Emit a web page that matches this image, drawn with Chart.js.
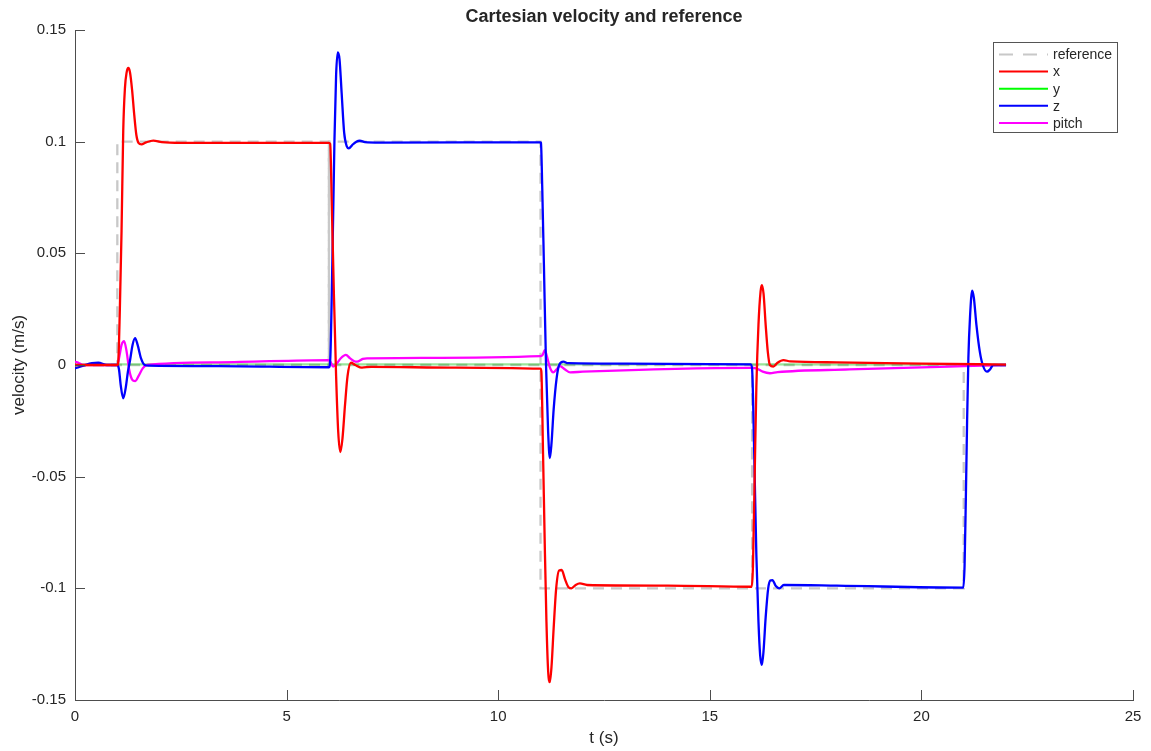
<!DOCTYPE html>
<html>
<head>
<meta charset="utf-8">
<script src="https://cdn.jsdelivr.net/npm/chart.js@4.4.1/dist/chart.umd.min.js"></script>
<style>
  html, body { margin: 0; padding: 0; background: #ffffff; }
  #wrap { position: relative; width: 1151px; height: 751px; }
</style>
</head>
<body>
<div id="wrap"><canvas id="c" width="1151" height="751"></canvas></div>
<script>
// ---------- data ----------
const chartTitle = 'Cartesian velocity and reference';
const xAxisTitle = 't (s)';
const yAxisTitle = 'velocity (m/s)';
const xTickLabels = ['0', '5', '10', '15', '20', '25'];
const yTickLabels = ['-0.15', '-0.1', '-0.05', '0', '0.05', '0.1', '0.15'];
const seriesNames = ['reference', 'x', 'y', 'z', 'pitch'];

// reference (x component and z component)
const refXt = [0, 1.0, 1.0, 6.0, 6.0, 11.0, 11.0, 16.0, 16.0, 22.0];
const refXv = [0, 0, 0.1, 0.1, 0, 0, -0.1, -0.1, 0, 0];
const refZt = [0, 6.0, 6.0, 11.0, 11.0, 16.0, 16.0, 21.0, 21.0, 22.0];
const refZv = [0, 0, 0.1, 0.1, 0, 0, -0.1, -0.1, 0, 0];

// x velocity
const xT = [0, 0.5, 1.0, 1.02, 1.06, 1.10, 1.14, 1.18, 1.22, 1.26, 1.3, 1.35, 1.4, 1.45, 1.5, 1.57, 1.68, 1.85, 2.05, 2.5, 6.0,
  6.03, 6.07, 6.12, 6.17, 6.22, 6.27, 6.32, 6.38, 6.44, 6.52, 6.62, 6.78, 7.0, 9.0, 11.0,
  11.02, 11.06, 11.1, 11.14, 11.18, 11.22, 11.26, 11.31, 11.37, 11.44, 11.5, 11.58, 11.66, 11.73, 11.83, 11.93, 12.1, 14.0, 15.99,
  16.02, 16.06, 16.1, 16.15, 16.2, 16.23, 16.27, 16.32, 16.37, 16.42, 16.5, 16.6, 16.74, 16.9, 18.0, 20.0, 22.0];
const xV = [0, 0, 0, 0.001, 0.025, 0.06, 0.105, 0.124, 0.131, 0.133, 0.131, 0.123, 0.112, 0.103, 0.0995, 0.0988, 0.0997, 0.1005, 0.0998, 0.0995, 0.0995,
  0.099, 0.07, 0.03, -0.005, -0.03, -0.039, -0.033, -0.018, -0.005, 0.001, 0, -0.0012, -0.0008, -0.0012, -0.0016,
  -0.003, -0.04, -0.08, -0.115, -0.137, -0.142, -0.135, -0.118, -0.1, -0.092, -0.0918, -0.096, -0.0995, -0.1, -0.0985, -0.0978, -0.0985, -0.0988, -0.0993,
  -0.09, -0.05, -0.01, 0.018, 0.033, 0.0358, 0.032, 0.018, 0.006, 0, -0.0007, 0.001, 0.0022, 0.0016, 0.0012, 0.0006, 0.0002];

// y velocity (stays near zero)
const yT = [0, 1.0, 6.0, 11.0, 16.0, 21.0, 22.0];
const yV = [0, 0.0003, 0.0003, 0.0003, 0.0003, 0.0002, 0];

// z velocity
const zT = [0, 0.05, 0.2, 0.4, 0.55, 0.75, 1.0, 1.04, 1.08, 1.14, 1.2, 1.25, 1.3, 1.36, 1.42, 1.48, 1.56, 1.65, 1.75, 3.4, 6.0,
  6.03, 6.08, 6.13, 6.17, 6.21, 6.25, 6.3, 6.36, 6.42, 6.47, 6.55, 6.65, 6.73, 6.85, 7.2, 11.0,
  11.01, 11.04, 11.08, 11.13, 11.18, 11.22, 11.26, 11.31, 11.38, 11.44, 11.54, 11.65, 13.0, 15.97,
  16.0, 16.05, 16.1, 16.15, 16.19, 16.23, 16.27, 16.32, 16.38, 16.43, 16.48, 16.56, 16.64, 16.75, 18.0, 20.99,
  21.02, 21.05, 21.08, 21.11, 21.15, 21.2, 21.24, 21.3, 21.38, 21.45, 21.55, 21.62, 21.7, 22.0];
const zV = [-0.0015, -0.0012, -0.0003, 0.0008, 0.001, 0, 0, -0.002, -0.009, -0.0149, -0.01, -0.003, 0.002, 0.009, 0.012, 0.009, 0.003, 0, -0.0003, -0.0005, -0.001,
  0.002, 0.045, 0.1, 0.13, 0.14, 0.137, 0.122, 0.104, 0.098, 0.097, 0.0985, 0.1, 0.1004, 0.0998, 0.0996, 0.0997,
  0.0995, 0.08, 0.045, 0, -0.03, -0.0417, -0.035, -0.02, -0.006, 0, 0.0015, 0.0008, 0.0006, 0.0003,
  -0.002, -0.04, -0.085, -0.115, -0.13, -0.1343, -0.128, -0.113, -0.1, -0.0965, -0.0963, -0.099, -0.1, -0.0985, -0.0988, -0.0997,
  -0.09, -0.06, -0.025, 0.003, 0.022, 0.0333, 0.03, 0.018, 0.006, 0, -0.003, -0.002, 0, 0];

// pitch velocity
const pT = [0, 0.1, 0.2, 1.0, 1.05, 1.1, 1.16, 1.22, 1.28, 1.35, 1.42, 1.5, 1.6, 1.7, 3.4, 6.0,
  6.05, 6.1, 6.18, 6.28, 6.4, 6.5, 6.6, 6.66, 6.8, 6.9, 11.0,
  11.05, 11.1, 11.15, 11.22, 11.3, 11.38, 11.46, 11.58, 11.7, 12.0, 16.0,
  16.1, 16.25, 16.42, 16.6, 18.3, 21.0, 22.0];
const pV = [0.0015, 0.0008, 0, 0, 0.004, 0.009, 0.0107, 0.006, -0.002, -0.0065, -0.0072, -0.005, -0.0015, 0, 0.0012, 0.0022,
  0.001, -0.0007, 0.0005, 0.003, 0.0045, 0.003, 0.0017, 0.0015, 0.0027, 0.003, 0.004,
  0.0045, 0.0067, 0.004, -0.001, -0.0033, -0.002, -0.0005, -0.002, -0.0033, -0.003, -0.0013,
  -0.0015, -0.003, -0.0037, -0.0032, -0.002, -0.0005, 0];

// ---------- styles ----------
const FONT = '"Liberation Sans", Arial, Helvetica, sans-serif';
const TEXT = '#262626';
const AXIS = '#4d4d4d';
const colors = { reference: '#c8c8c8', x: '#ff0000', y: '#00ff00', z: '#0000ff', pitch: '#ff00ff' };

const pts = (t, v) => t.map((tt, i) => ({ x: tt, y: v[i] }));

const datasets = [
  { label: 'x', data: pts(xT, xV), borderColor: colors.x },
  { label: 'z', data: pts(zT, zV), borderColor: colors.z },
  { label: 'pitch', data: pts(pT, pV), borderColor: colors.pitch },
  { label: 'y', data: pts(yT, yV), borderColor: 'rgba(0,190,0,0.4)' },
  { label: 'reference', data: pts(refXt, refXv), borderColor: colors.reference, borderDash: [11, 7], cubicInterpolationMode: 'default', tension: 0 },
  { label: 'reference z', data: pts(refZt, refZv), borderColor: colors.reference, borderDash: [11, 7], cubicInterpolationMode: 'default', tension: 0 }
];

// ---------- custom drawing: inward ticks, title, legend ----------
const decor = {
  id: 'decor',
  afterDraw(chart) {
    const { ctx, chartArea: a, scales } = chart;
    ctx.save();
    // inward tick marks
    ctx.strokeStyle = AXIS;
    ctx.lineWidth = 1;
    ctx.beginPath();
    scales.x.ticks.forEach(t => {
      const px = Math.round(scales.x.getPixelForValue(t.value)) + 0.5;
      ctx.moveTo(px, a.bottom); ctx.lineTo(px, a.bottom - 10);
    });
    scales.y.ticks.forEach(t => {
      const py = Math.round(scales.y.getPixelForValue(t.value)) + 0.5;
      ctx.moveTo(a.left, py); ctx.lineTo(a.left + 10, py);
    });
    ctx.stroke();

    // title
    ctx.fillStyle = TEXT;
    ctx.font = 'bold 18px ' + FONT;
    ctx.textAlign = 'center';
    ctx.textBaseline = 'middle';
    ctx.fillText(chartTitle, (a.left + a.right) / 2, 17);

    // legend
    const bx = 993.5, by = 42.5, bw = 124, bh = 90;
    ctx.fillStyle = '#ffffff';
    ctx.fillRect(bx, by, bw, bh);
    ctx.strokeStyle = '#555555';
    ctx.lineWidth = 1;
    ctx.strokeRect(bx, by, bw, bh);
    ctx.font = '14px ' + FONT;
    ctx.textAlign = 'left';
    ctx.textBaseline = 'middle';
    seriesNames.forEach((name, i) => {
      const yy = 54.5 + i * 17.1;
      ctx.beginPath();
      ctx.strokeStyle = colors[name];
      ctx.lineWidth = 2;
      ctx.setLineDash(name === 'reference' ? [14, 10] : []);
      ctx.moveTo(999, yy); ctx.lineTo(1048, yy);
      ctx.stroke();
      ctx.setLineDash([]);
      ctx.fillStyle = TEXT;
      ctx.fillText(name, 1053, yy + 1);
    });
    ctx.restore();
  }
};

new Chart(document.getElementById('c'), {
  type: 'line',
  data: { datasets },
  options: {
    responsive: false,
    animation: false,
    layout: { padding: { top: 30, right: 18, left: 0, bottom: 0 } },
    elements: {
      point: { radius: 0 },
      line: { borderWidth: 2.3, cubicInterpolationMode: 'monotone', fill: false }
    },
    plugins: { legend: { display: false }, title: { display: false }, tooltip: { enabled: false } },
    scales: {
      x: {
        type: 'linear', min: 0, max: 25,
        grid: { display: false, drawTicks: false },
        border: { display: true, color: AXIS, width: 1 },
        ticks: {
          stepSize: 5, padding: 8, maxRotation: 0, color: TEXT,
          font: { family: FONT, size: 15 },
          callback: (v, i) => xTickLabels[i]
        },
        title: { display: true, text: xAxisTitle, color: TEXT, font: { family: FONT, size: 17 }, padding: { top: 2, bottom: 2 } },
        afterFit: s => { s.height = 51; }
      },
      y: {
        type: 'linear', min: -0.15, max: 0.15,
        grid: { display: false, drawTicks: false },
        border: { display: true, color: AXIS, width: 1 },
        ticks: {
          stepSize: 0.05, padding: 9, color: TEXT,
          font: { family: FONT, size: 15 },
          callback: (v, i) => yTickLabels[i]
        },
        title: { display: true, text: yAxisTitle, color: TEXT, font: { family: FONT, size: 17 }, padding: { top: 9, bottom: 9 } },
        afterFit: s => { s.width = 75; }
      }
    }
  },
  plugins: [decor]
});
</script>
</body>
</html>
